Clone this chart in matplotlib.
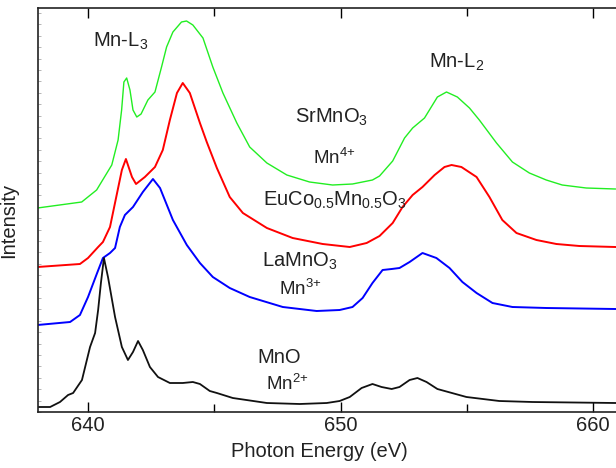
import numpy as np
import matplotlib
matplotlib.use("Agg")
import matplotlib.pyplot as plt
from matplotlib.ticker import MultipleLocator, NullFormatter

plt.rcParams['font.family'] = ['Liberation Sans', 'DejaVu Sans']
plt.rcParams['mathtext.fontset'] = 'custom'
plt.rcParams['mathtext.rm'] = 'Liberation Sans'
plt.rcParams['mathtext.it'] = 'Liberation Sans:italic'
plt.rcParams['mathtext.bf'] = 'Liberation Sans:bold'

# SrMnO3 (Mn4+)
e_sr = [638.0, 639.75, 640.34, 640.94, 641.19, 641.33, 641.42, 641.53, 641.66, 641.78,
        641.93, 642.10, 642.37, 642.65, 642.91, 643.11, 643.36, 643.70, 643.90, 644.15,
        644.55, 644.94, 645.34, 645.89, 646.40, 647.08, 647.87, 648.77, 649.68, 650.47,
        651.26, 651.54, 652.06, 652.53, 652.85, 653.32, 653.83, 654.19, 654.62, 655.10,
        655.49, 656.17, 656.80, 657.47, 658.14, 658.77, 659.72, 660.87]
i_sr = [204, 210, 222, 247, 272, 302, 330, 334, 322, 302,
        295, 298, 312, 320, 345, 365, 380, 390, 391, 387,
        374, 345, 319, 289, 265, 249, 237, 230, 227, 228,
        232, 236, 251, 274, 284, 294, 315, 320, 315, 304,
        292, 269, 250, 239, 232, 227, 224, 223]

# EuCo0.5Mn0.5O3
e_eu = [638.0, 639.68, 640.0, 640.40, 640.59, 640.87, 641.15, 641.34, 641.50, 641.74,
        641.90, 642.25, 642.65, 642.96, 643.24, 643.52, 643.75, 644.03, 644.43, 644.70,
        645.10, 645.61, 646.13, 647.08, 648.10, 649.29, 650.36, 651.03, 651.54, 652.06,
        652.45, 652.85, 653.24, 653.72, 654.11, 654.39, 654.78, 655.38, 655.89, 656.40,
        656.96, 657.75, 658.54, 659.45, 660.87]
i_eu = [145, 148, 154, 165, 170, 185, 219, 242, 253, 235,
        228, 235, 245, 262, 292, 319, 329, 319, 289, 270,
        244, 215, 199, 184, 174, 168, 165, 169, 176, 189,
        205, 217, 225, 237, 245, 247, 245, 235, 215, 192,
        179, 172, 168, 166, 165]

# LaMnO3 (Mn3+)
e_la = [638.0, 639.29, 639.68, 640.0, 640.36, 640.59, 640.87, 641.07, 641.26, 641.46,
        641.78, 642.17, 642.57, 642.85, 643.36, 643.91, 644.43, 644.94, 645.61, 646.40,
        647.71, 649.05, 649.96, 650.47, 650.87, 651.26, 651.66, 652.02, 652.33, 652.73,
        653.24, 653.79, 654.31, 654.82, 655.38, 656.01, 656.80, 658.14, 660.87]
i_la = [87, 90, 97, 115, 139, 154, 159, 164, 185, 197,
        205, 220, 233, 224, 192, 167, 149, 135, 124, 115,
        105, 101, 102, 105, 114, 129, 142, 143, 144, 150,
        159, 154, 144, 130, 119, 109, 105, 104, 103]

# MnO (Mn2+)
e_mno = [638.0, 638.50, 638.89, 639.21, 639.41, 639.76, 640.08, 640.28, 640.40, 640.51,
         640.63, 640.79, 641.07, 641.34, 641.58, 641.78, 641.98, 642.17, 642.45, 642.77,
         643.24, 643.75, 644.15, 644.43, 644.82, 645.10, 645.73, 647.08, 648.38, 649.45,
         649.96, 650.36, 650.83, 651.26, 651.62, 652.02, 652.33, 652.73, 653.04, 653.40,
         653.83, 654.98, 656.28, 657.59, 660.87]
i_mno = [5, 5, 10, 17, 19, 32, 65, 79, 102, 129,
         154, 135, 95, 65, 52, 60, 71, 62, 45, 35,
         29, 29, 30, 28, 21, 19, 14, 9, 8, 9,
         11, 15, 24, 28, 25, 23, 25, 32, 34, 30,
         23, 15, 11, 10, 9]

fig = plt.figure(figsize=(6.16, 4.68), dpi=100)
ax = fig.add_axes([37.5 / 616, 56 / 468, 578.5 / 616, 404 / 468])

ax.plot(e_sr, i_sr, color='#22ee22', lw=1.0)
ax.plot(e_eu, i_eu, color='#ff0000', lw=1.4)
ax.plot(e_la, i_la, color='#0000ff', lw=1.4)
ax.plot(e_mno, i_mno, color='#111111', lw=1.3)

ax.set_xlim(638.0, 660.9)
ax.set_ylim(0, 404)

fs = 14.5
tc = '#222222'
ax.text(640.2, 365, r'Mn-L$_3$', fontsize=fs, color=tc, va='baseline')
ax.text(653.48, 344, r'Mn-L$_2$', fontsize=fs, color=tc, va='baseline')
ax.text(648.18, 289, r'SrMnO$_3$', fontsize=fs, color=tc, va='baseline')
ax.text(648.89, 248, r'Mn$^{\text{4+}}$', fontsize=fs - 1, color=tc, va='baseline')
ax.text(646.92, 206, r'EuCo$_{0.5}$Mn$_{0.5}$O$_3$', fontsize=fs, color=tc, va='baseline')
ax.text(646.88, 145, r'LaMnO$_3$', fontsize=fs, color=tc, va='baseline')
ax.text(647.55, 117, r'Mn$^{\text{3+}}$', fontsize=fs - 1, color=tc, va='baseline')
ax.text(646.72, 49, r'MnO', fontsize=fs, color=tc, va='baseline')
ax.text(647.04, 22, r'Mn$^{\text{2+}}$', fontsize=fs - 1, color=tc, va='baseline')

ax.xaxis.set_major_locator(MultipleLocator(10))
ax.xaxis.set_minor_locator(MultipleLocator(5))
ax.tick_params(axis='x', which='both', direction='in', top=True, labelsize=fs,
               labelcolor=tc, pad=3, width=1.0)
ax.tick_params(axis='x', which='major', length=7)
ax.tick_params(axis='x', which='minor', length=6)

ax.yaxis.set_major_locator(MultipleLocator(11.4))
ax.yaxis.set_major_formatter(NullFormatter())
ax.tick_params(axis='y', which='both', direction='in', length=2, width=0.6,
               color='#aaaaaa')

ax.spines['right'].set_visible(False)
for s in ['left', 'top', 'bottom']:
    ax.spines[s].set_linewidth(1.2)
    ax.spines[s].set_color('#222222')

ax.set_xlabel('Photon Energy (eV)', fontsize=fs, color=tc)
ax.xaxis.set_label_coords(0.488, -0.074)
ax.set_ylabel('Intensity', fontsize=fs, color=tc)
ax.yaxis.set_label_coords(-0.034, 0.475)

fig.savefig('out.png', dpi=100)
